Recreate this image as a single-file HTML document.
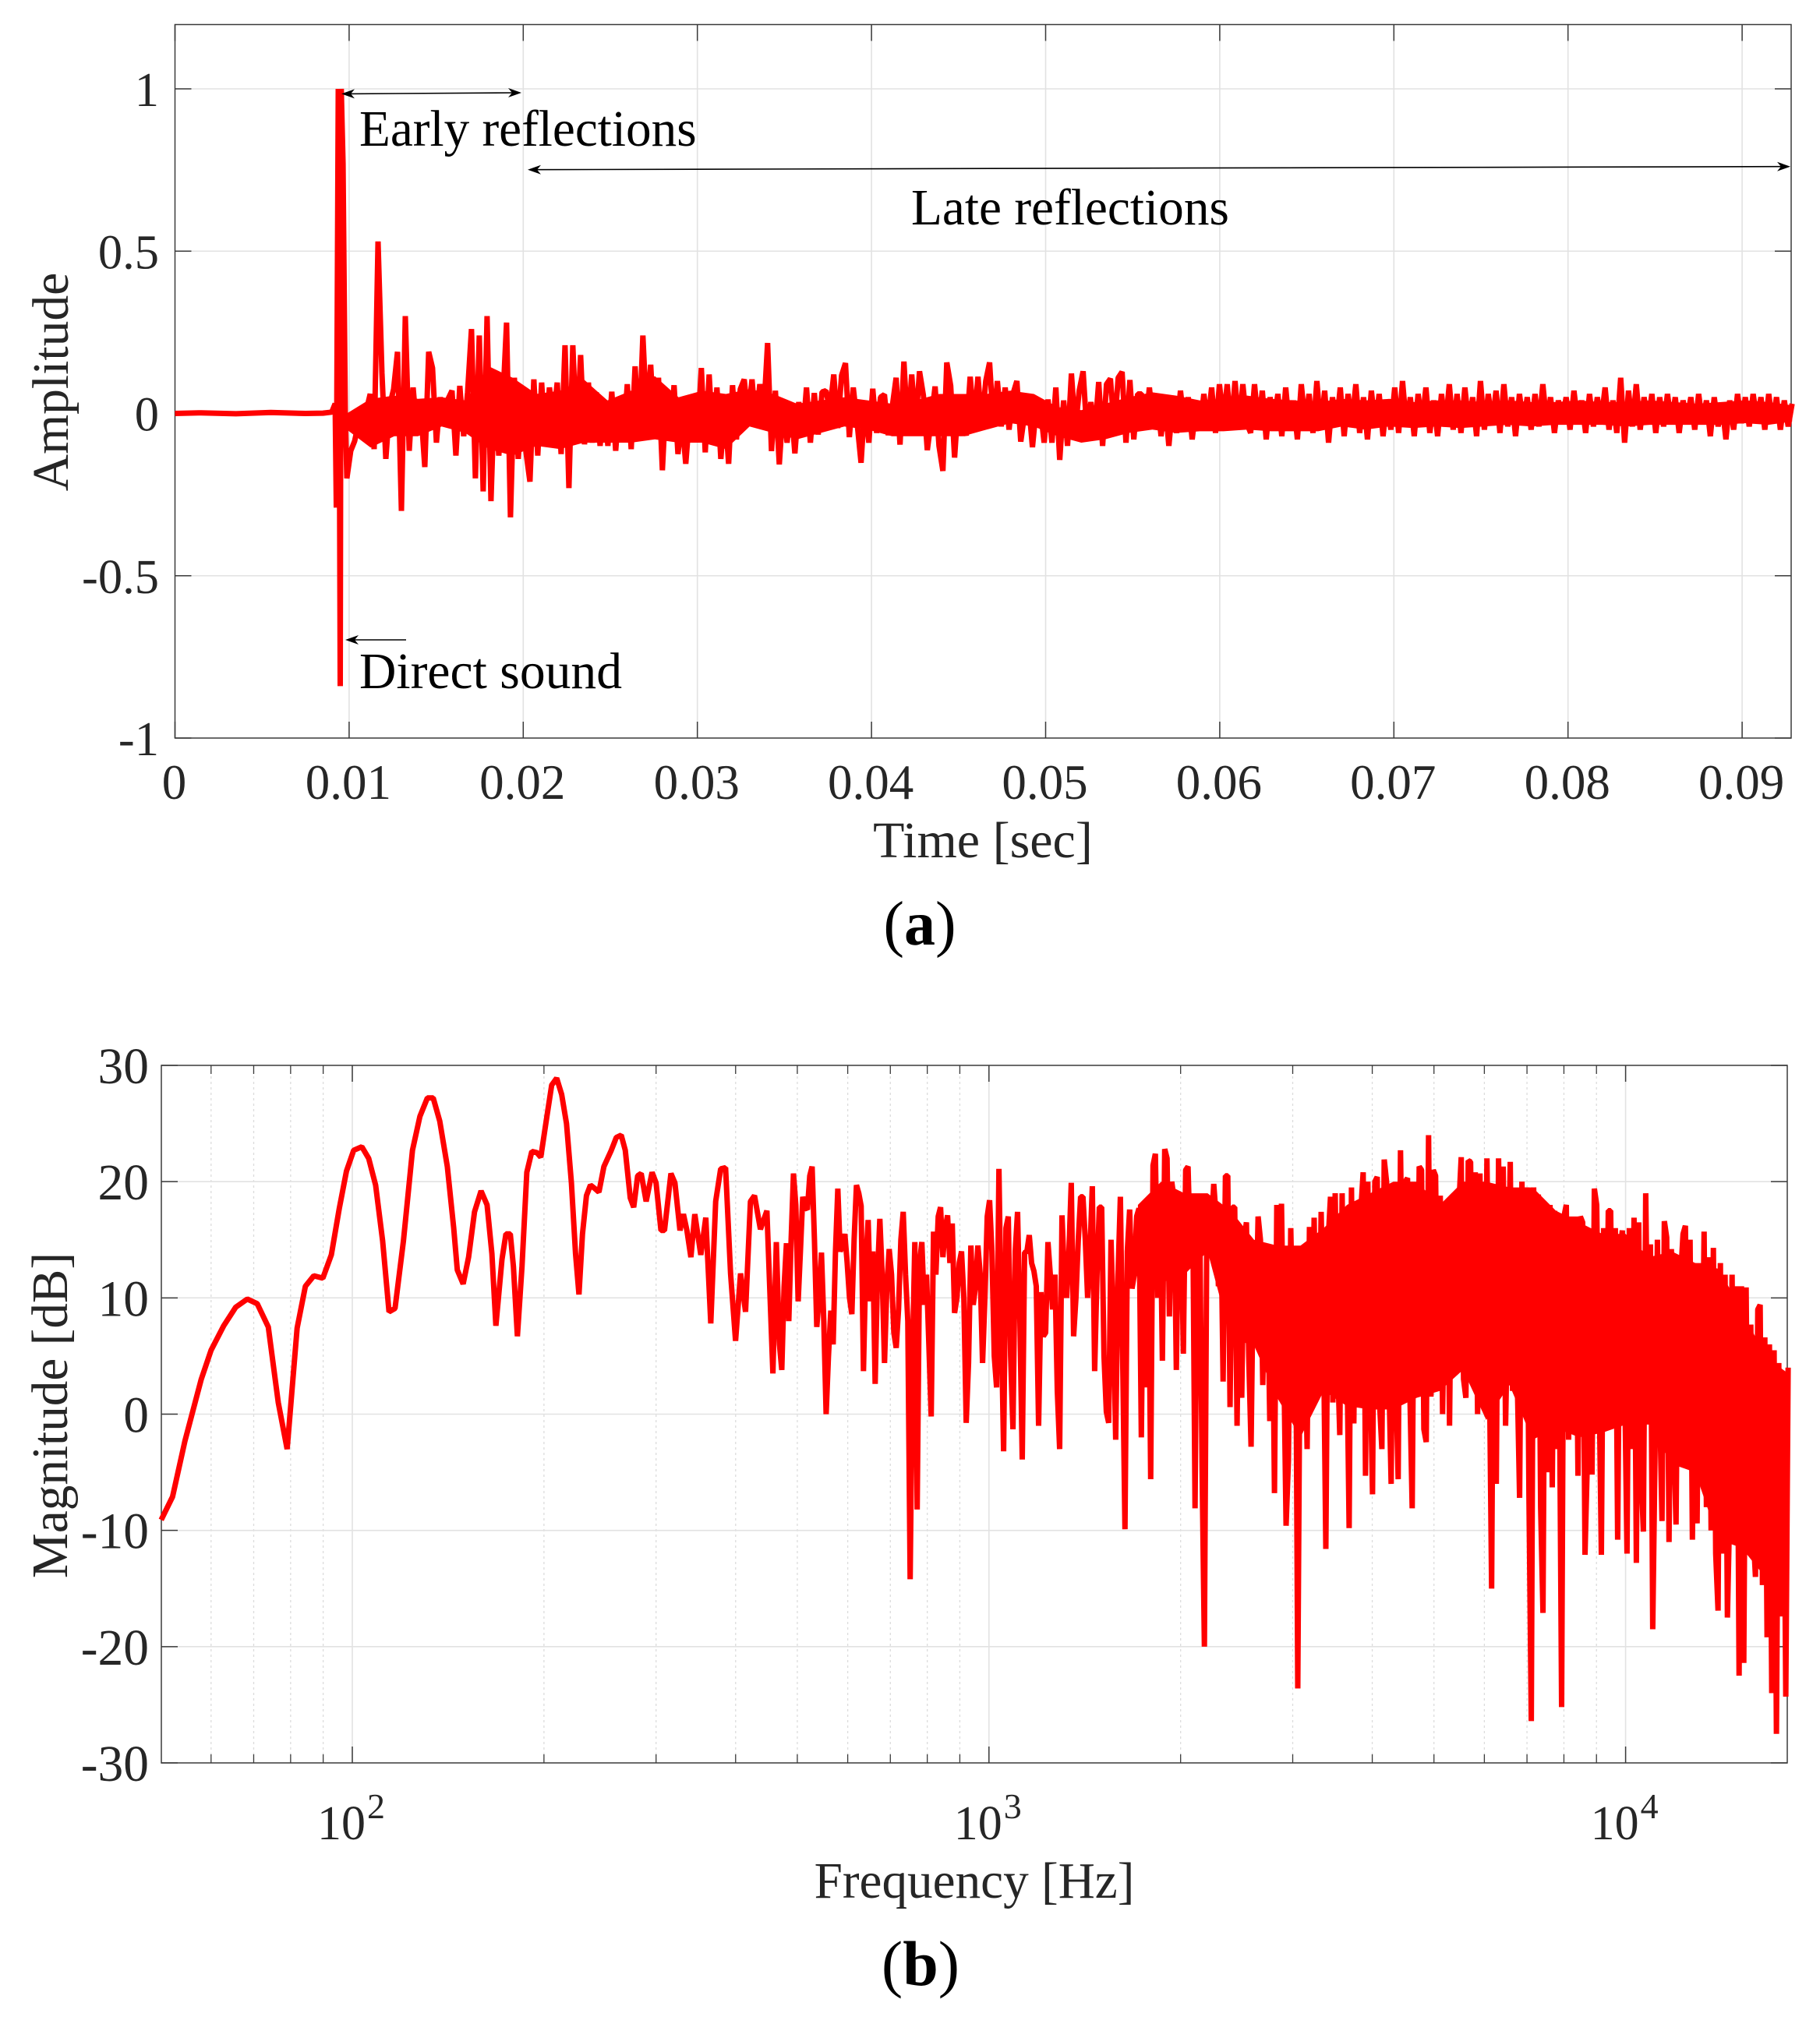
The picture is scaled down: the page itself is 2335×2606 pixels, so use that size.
<!DOCTYPE html>
<html lang="en">
<head>
<meta charset="utf-8">
<title>Room impulse response and frequency response</title>
<style>
html,body{margin:0;padding:0;background:#fff;}
body{width:2335px;height:2606px;overflow:hidden;}
svg{display:block;}
text{font-family:"Liberation Serif",serif;}
</style>
</head>
<body>
<svg id="figure" xmlns="http://www.w3.org/2000/svg" width="2335" height="2606" viewBox="0 0 2335 2606">
  <rect x="0" y="0" width="2335" height="2606" fill="#fff"/>
  <g id="panel-a"></g>
  <g id="panel-b"></g>
  <text x="461" y="187" font-size="65.2" fill="#000">Early reflections</text>
  <text x="1169" y="288" font-size="65.3" fill="#000">Late reflections</text>
  <text x="461" y="883" font-size="65.6" fill="#000">Direct sound</text>
  <text x="1180" y="1212" font-size="80" text-anchor="middle" fill="#000">(<tspan font-weight="bold">a</tspan>)</text>
  <text x="1181" y="2547" font-size="82" text-anchor="middle" fill="#000">(<tspan font-weight="bold">b</tspan>)</text>
</svg>
<script>
// ---- Panel (a): amplitude vs time ----
const ampTickTimes = [0, 0.01, 0.02, 0.03, 0.04, 0.05, 0.06, 0.07, 0.08, 0.09];
const ampTickTimeLabels = ['0', '0.01', '0.02', '0.03', '0.04', '0.05', '0.06', '0.07', '0.08', '0.09'];
const ampTickValues = [1, 0.5, 0, -0.5, -1];
const ampTickValueLabels = ['1', '0.5', '0', '-0.5', '-1'];
const ampLeadTimes = [0, 0.0015, 0.0035, 0.0055, 0.0075, 0.0085, 0.009, 0.0092, 0.009266, 0.00938, 0.00949, 0.00955, 0.00965, 0.00978];
const ampLeadValues = [0, 0.002, -0.001, 0.003, 0, 0.001, 0.004, 0.03, -0.29, 1, -0.84, 1, 0.77, 0];
const ampTailStart = 0.00987;
const ampTailEnd = 0.09287;
const ampTailValues = [
-.2,-.115,-.085,-.03,-.05,.01,.06,-.11,.53,.125,-.14,.025,.075,.19,-.3,.3,-.115,.08,-.06,.01,
-.165,.19,.14,-.09,.05,-.035,.045,.07,-.13,.085,-.07,.065,.26,-.2,.24,-.24,.3,-.27,.1,-.13,
.025,.28,-.32,.11,-.14,.045,-.12,-.21,.105,-.13,.095,-.1,.08,-.02,.095,-.125,.21,-.23,.21,-.08,
.18,-.095,.095,-.09,.065,-.1,.04,-.1,.067,-.115,.04,-.08,.09,-.11,.145,-.08,.24,-.02,.15,-.07,
.11,-.175,.065,-.08,.087,-.125,-.015,-.155,0,.055,-.075,.14,-.12,.12,-.09,.08,-.14,.015,-.155,.087,
-.08,.075,.105,-.015,.105,-.04,.09,0,.217,-.116,.07,-.157,.025,-.09,.03,-.123,.035,-.07,.08,-.09,
.063,-.065,.066,.07,.01,.12,-.045,.117,.155,-.073,.08,-.03,-.152,.037,-.09,.076,-.06,.05,.058,-.067,
.02,.11,-.096,.16,-.06,.12,-.04,.13,.055,-.113,-.02,.083,-.1,-.177,.157,.085,-.136,.045,-.03,-.068,
.113,-.03,.113,-.035,.1,.157,-.04,.1,-.04,.08,-.05,.06,.1,-.087,0,.033,-.104,.02,.018,-.09,
.043,-.09,.08,-.143,.04,-.1,.123,-.05,.07,.13,-.065,.035,-.06,.097,-.1,.09,.107,-.05,.11,.128,
-.09,.103,-.08,.06,
.06,-.05,.08,-.03,.05,-.07,.04,-.1,.03,-.06,.07,-.04,.05,-.08,.02,-.05,.06,-.03,.08,-.06,.09,-.02,.09,-.05,.1,-.04,.09,-.03,
-.06,.09,-.04,.07,-.08,.05,-.02,.06,-.07,.08,-.05,.04,-.08,.09,-.03,.06,-.06,.1,-.05,.07,-.09,.05,-.04,.08,-.07,.06,-.03,.09,-.06,.05,-.08,.07,-.04,.06,-.07,.04,
-.05,.08,-.06,.1,-.04,.05,-.07,.06,-.03,.08,-.06,.04,-.07,.06,-.04,.09,-.05,.06,-.06,.08,-.04,.05,-.07,.1,-.05,.06,-.03,.07,-.06,.09,-.04,.05,-.07,.06,-.03,.05,
-.05,.06,-.04,.09,-.03,.05,-.06,.04,-.02,.05,-.05,.07,-.03,.04,-.06,.06,-.04,.05,-.02,.08,-.05,.04,-.06,.11,-.09,.07,-.04,.09,-.05,.05,-.03,.06,-.06,.05,
-.04,.06,-.03,.05,-.06,.04,-.02,.05,-.05,.06,-.03,.04,-.07,.05,-.04,.03,-.08,.04,-.05,.06,-.03,.05,-.04,.06,-.02,.05,-.05,.06,-.03,.05,-.05,.04,-.04,.03
];
// Solid core of the dense oscillation, read at evenly spaced times along the tail.
const ampCoreUpper = [0,.045,.055,.045,.05,.04,.145,.11,.06,.07,.105,.04,.07,.115,.05,.07,.06,.075,.06,.03,.04,.05,.04,.03,.04,.06,.06,.06,.07,.06,.02,.01,.03,.05,.065,.055,.04,.045,.055,.045,.04,.035,.045,.04,.045,.035,.04,.04,.035,.04,.035,.035,.04,.035,.035,.04,.035,.03,.035,.04,.035,.025];
const ampCoreLower = [-.05,-.105,-.07,-.07,-.04,-.06,-.11,-.13,-.1,-.11,-.09,-.09,-.09,-.08,-.09,-.09,-.11,-.04,-.06,-.08,-.06,-.04,-.05,-.07,-.07,-.07,-.07,-.05,-.03,-.04,-.07,-.09,-.08,-.06,-.05,-.06,-.055,-.055,-.05,-.055,-.055,-.055,-.04,-.05,-.04,-.045,-.04,-.045,-.04,-.035,-.04,-.035,-.035,-.035,-.04,-.035,-.035,-.035,-.035,-.03,-.035,-.025];

// ---- Panel (b): magnitude vs frequency ----
const magTickDb = [30, 20, 10, 0, -10, -20, -30];
const magTickDbLabels = ['30', '20', '10', '0', '-10', '-20', '-30'];
const magDecadeHz = [100, 1000, 10000];
const magDecadeBase = ['10', '10', '10'];
const magDecadeExp = ['2', '3', '4'];
const magMinorHz = [60, 70, 80, 90, 200, 300, 400, 500, 600, 700, 800, 900, 2000, 3000, 4000, 5000, 6000, 7000, 8000, 9000];
const magLowHz = [50.1,52.2,54.6,57.9,60,62.8,65.6,68.4,70.9,73.8,76.5,79,81.9,84.4,87,89.9,92.7,95.4,97.9,100.5,103.5,106.1,108.8,111.6,114.2,116.7,120.3,124.3,127.7,131.2,134,137.2,141,144.3,146.2,149.3,152.3,155.6,159.3,162.8,165.7,168.1,171.8,174.3,177.1,179.1,181.7,184.7,188,191.4,194.9,197.7,202,205.7,209.4,213.2,217,220.9,224.2,227,229.9,233.2,236.6,240.5,244,248.4,255.2,259.8,264.5,268.4,273.3,276.7,280.7,284.3,289.4,295.7,300,305.4,309.3,316.6,321.2,327.1,331.2,335.4,340.3,345.1,352.7,359.1,365.6,372.2,379,385.8,392.8,399.9,407.2,414.6,422,428.3,437.6,447.9,457.7,463.4];
const magLowDb = [-9.1,-7.1,-2.3,3,5.5,7.6,9.2,9.9,9.5,7.5,1,-3,7.4,11,11.9,11.7,13.7,17.7,20.9,22.7,23,22,19.7,14.9,8.8,9.1,14.9,22.7,25.6,27.2,27.2,25.2,21.3,16,12.4,11.2,13.5,17.4,19.2,18,13.8,7.6,13.3,15.5,15.5,12.7,6.7,12.7,20.8,22.6,22.5,22.1,25.5,28.3,28.9,27.5,25,19.9,13.8,10.3,15.5,18.8,19.7,19.4,19.1,21.3,22.7,23.8,24,22.7,18.6,17.8,20.5,20.7,18.3,20.8,19.9,15.8,15.8,20.7,19.9,15.8,17.2,15.8,13.5,17.2,13.7,16.9,7.8,18.3,21.1,21.2,12.1,6.3,12.1,8.8,18.3,18.8,15.9,17.5,3.5,14.8];
const magHighStartHz = 468.7;
const magHighEndHz = 18000;
const magHighDb = [
6,3.8,11,14.7,8,15,20.7,18,9.7,14,18.7,17.8,17.6,20.5,21.3,15,7.5,10,13.9,8,0,5,8.9,6,14,19.4,14,14.5,15.5,13,10,8.6,15,19.7,19,17.9,3.7,13,16.7,9.7,
14,2.6,12,16.8,12,4.4,11,14.2,12,7,5.7,9,15,17.4,12,8,-14.2,5,14.8,-8.2,13,14.8,9.4,12,6,-0.2,15.7,12,17,17.8,13.5,16,17.1,13,16.4,8.7,10,13,14,10,
-0.75,4.4,14.5,9.4,11,14.5,12,4.4,10,17,18.4,14,5,2.3,21.1,8,-3.2,16,17,5,-1.3,14,17.4,8,-3.9,13.9,14,15.4,13,12.3,11,-1,10.5,6.7,7,14.8,12,9,12,2,
-3,17.1,12,10,14,19.9,6.7,10,15,18.7,18.7,15,10,14,19.6,3.7,12,17.8,17.8,5,0.2,-0.75,15,8,-2.2,12,18.7,5,-9.9,14,17.6,10.8,12,17,
17.7,-2,17.5,2.3,17,-5.6,21.4,22.4,10,19.4,4.6,22.8,22,8.4,20,18.5,3.8,18.2,18,5.2,21,21.3,14,18.3,-8.1,17.5,17.1,-4.5,-20,15,18.5,16,19.8,17,11,18,2.8,20.5,20.5,0.6,
17.8,17.8,-1,15,1.4,15,16.5,5,-2.8,13.7,7,17,15,2.5,14,12,-0.6,14,-6.8,18,12,18.1,5,-9.6,-4,16,6,13.4,-23.6,8,14,8,-3,16.1,1.8,16.9,3,3,17.4,7,
-11.6,15,18.7,1,19,5,-1.8,19,2,6,-9.8,19.5,-0.8,17,3,17.5,20.8,-5.3,20,4,-6.9,20,20.4,1,-3,21.9,20,3,-6,19.4,3,-5.6,22.7,8,20,20.3,2,-8.1,19,4,
21.3,21,-1.3,-2.4,24,1.5,21,20.5,4,18.8,0,14,18,-1,18.8,18.8,5,18,22.1,3,1.4,21.8,21.7,4.8,
20.8,0,20.7,5,2,22,5,-15,19,-6,22,8,21.3,-1,10,21.7,2,17,3,-7.2,20,4,19.5,-7,-26.4,19.5,1,18.9,-8,-17.1,18,-5,18,-6.3,17.5,-3,5,-25.2,17,18,
-2.2,17,4,17,-5.3,17,16.5,-12.1,-4,15,-5.2,19.4,18,3,-12.1,16,1,17.5,17.5,1,16,-10.8,14,15.8,3,-12,16,-3,16.9,-12.8,16.5,-5,-10.1,19,3,14.6,-18.5,-3,15,1,
-9.2,16.6,15.2,-11,14.2,-2,-9.5,13,12,15.5,16.2,1,15,-10.8,13,-9.4,13,-2,15.7,-8,13.5,-10,14.3,-12,-16.9,13,-12,12,-17.5,-8,12,-10,11,-22.5,11,-21.4,10.9,-12,7.7,-10,
-14,9,9.4,-14.7,6.6,-19.2,6,-24,5.5,-27.5,4.4,-17.4,2.9,-24.3,4
];
// Solid core of the dense high-frequency oscillation, read at evenly spaced log-frequency steps.
const magCoreStartHz = 1714;
const magCoreUpperDb = [18,20,19,19,17.5,15,14.5,14.5,16,18,19,20,20,18,20,20,19.5,19.5,17.5,16.5,15.5,15.5,13.5,14,13,12.5,9,5,3.5];
const magCoreLowerDb = [11,11.3,12,14,6.5,5.9,1.4,-2,2,0.7,0.4,0.4,1.4,2,3.8,-0.5,2.5,-2.2,-1.2,-2,-1.6,-0.9,-0.9,-4.3,-5,-10.8,-11.5,-14,-13.5];

// ---- Axis functions ----
const axA = {left: 224.5, right: 2298, top: 31.5, bottom: 947};
const axB = {left: 207, right: 2293, top: 1367, bottom: 2262};
function xA(t) { return 224.5 + t * 22340; }
function yA(v) { return 530.5 - 416.5 * v; }
function xB(f) { return 452 + 816.8 * (Math.log10(f) - 2); }
function yB(db) { return 1814.5 - 14.917 * db; }

const NS = 'http://www.w3.org/2000/svg';
const panelA = document.getElementById('panel-a');
const panelB = document.getElementById('panel-b');
const GRID = '#e2e2e2';
const AXIS = '#3a3a3a';
const TICKTEXT = '#262626';

function line(parent, x1, y1, x2, y2, color, width, dash) {
  const el = document.createElementNS(NS, 'line');
  el.setAttribute('x1', x1);
  el.setAttribute('y1', y1);
  el.setAttribute('x2', x2);
  el.setAttribute('y2', y2);
  el.setAttribute('stroke', color);
  el.setAttribute('stroke-width', width);
  if (dash) el.setAttribute('stroke-dasharray', dash);
  parent.appendChild(el);
  return el;
}
function label(parent, str, x, y, size, anchor) {
  const el = document.createElementNS(NS, 'text');
  el.setAttribute('x', x);
  el.setAttribute('y', y);
  el.setAttribute('font-size', size);
  el.setAttribute('text-anchor', anchor);
  el.setAttribute('fill', TICKTEXT);
  el.textContent = str;
  parent.appendChild(el);
  return el;
}
function frame(parent, ax) {
  const el = document.createElementNS(NS, 'rect');
  el.setAttribute('x', ax.left);
  el.setAttribute('y', ax.top);
  el.setAttribute('width', ax.right - ax.left);
  el.setAttribute('height', ax.bottom - ax.top);
  el.setAttribute('fill', 'none');
  el.setAttribute('stroke', AXIS);
  el.setAttribute('stroke-width', 1.5);
  
  
  parent.appendChild(el);
}
function series(parent, pts, width) {
  const el = document.createElementNS(NS, 'path');
  let d = '';
  for (let i = 0; i < pts.length; i++) {
    d += (i ? 'L' : 'M') + pts[i][0].toFixed(1) + ' ' + pts[i][1].toFixed(1);
  }
  el.setAttribute('d', d);
  el.setAttribute('fill', 'none');
  el.setAttribute('stroke', '#ff0000');
  el.setAttribute('stroke-width', width);
  el.setAttribute('stroke-linejoin', 'bevel');
  el.setAttribute('stroke-linecap', 'butt');
  parent.appendChild(el);
  return el;
}
function core(parent, upperPts, lowerPts) {
  const el = document.createElementNS(NS, 'polygon');
  const all = upperPts.concat(lowerPts.slice().reverse());
  el.setAttribute('points', all.map(function (p) { return p[0].toFixed(1) + ',' + p[1].toFixed(1); }).join(' '));
  el.setAttribute('fill', '#ff0000');
  parent.appendChild(el);
  return el;
}
function arrowHead(parent, tipX, tipY, dir) {
  const el = document.createElementNS(NS, 'polygon');
  const p = [[tipX, tipY], [tipX - dir * 17, tipY - 6], [tipX - dir * 12, tipY], [tipX - dir * 17, tipY + 6]];
  el.setAttribute('points', p.map(function (q) { return q.join(','); }).join(' '));
  el.setAttribute('fill', '#000');
  parent.appendChild(el);
  return el;
}

// ---- Draw panel (a) ----
ampTickTimes.forEach(function (t, i) {
  const g = document.createElementNS(NS, 'g');
  
  
  const x = xA(t);
  if (i > 0) line(g, x, axA.top, x, axA.bottom, GRID, 1.6);
  line(g, x, axA.bottom, x, axA.bottom - 21, AXIS, 1.5);
  line(g, x, axA.top, x, axA.top + 21, AXIS, 1.5);
  label(g, ampTickTimeLabels[i], x - 1, 1025, 63, 'middle');
  panelA.appendChild(g);
});
ampTickValues.forEach(function (v, i) {
  const g = document.createElementNS(NS, 'g');
  
  
  const y = yA(v);
  if (v !== -1) line(g, axA.left, y, axA.right, y, GRID, 1.6);
  line(g, axA.left, y, axA.left + 21, y, AXIS, 1.5);
  line(g, axA.right, y, axA.right - 21, y, AXIS, 1.5);
  label(g, ampTickValueLabels[i], 204, y + 22, 62.5, 'end');
  panelA.appendChild(g);
});
frame(panelA, axA);

const ampCoreUpperPts = [];
const ampCoreLowerPts = [];
ampCoreUpper.forEach(function (v, i) {
  const t = ampTailStart + i * (ampTailEnd - ampTailStart) / (ampCoreUpper.length - 1);
  ampCoreUpperPts.push([xA(t), yA(v)]);
  ampCoreLowerPts.push([xA(t), yA(ampCoreLower[i])]);
});
const ampCoreBand = core(panelA, ampCoreUpperPts, ampCoreLowerPts);



const ampPoints = [];
ampLeadTimes.forEach(function (t, i) {
  ampPoints.push([xA(t), yA(ampLeadValues[i])]);
});
ampTailValues.forEach(function (v, i) {
  const t = ampTailStart + i * (ampTailEnd - ampTailStart) / (ampTailValues.length - 1);
  ampPoints.push([xA(t), yA(v)]);
});
const ampLine = series(panelA, ampPoints, 7);



const arrowGroup = document.createElementNS(NS, 'g');


panelA.appendChild(arrowGroup);
line(arrowGroup, 445, 120.4, 664, 119, '#000', 1.6);
arrowHead(arrowGroup, 438, 120.4, -1);
arrowHead(arrowGroup, 669, 119, 1);
line(arrowGroup, 682, 217.7, 2290, 213.7, '#000', 1.6);
arrowHead(arrowGroup, 677, 217.7, -1);
arrowHead(arrowGroup, 2297, 213.7, 1);
line(arrowGroup, 450, 821, 521, 821, '#000', 1.6);
arrowHead(arrowGroup, 443, 821, -1);

const timeTitle = label(panelA, 'Time [sec]', 1261, 1100, 66, 'middle');


const ampTitle = label(panelA, 'Amplitude', 0, 0, 65.6, 'middle');
ampTitle.setAttribute('transform', 'translate(87,490) rotate(-90)');



// ---- Draw panel (b) ----
magMinorHz.forEach(function (f) {
  const g = document.createElementNS(NS, 'g');
  
  
  const x = xB(f);
  line(g, x, axB.top, x, axB.bottom, '#dcdcdc', 1.3, '3 4');
  line(g, x, axB.bottom, x, axB.bottom - 11, AXIS, 1.3);
  line(g, x, axB.top, x, axB.top + 11, AXIS, 1.3);
  panelB.appendChild(g);
});
magDecadeHz.forEach(function (f, i) {
  const g = document.createElementNS(NS, 'g');
  
  
  const x = xB(f);
  line(g, x, axB.top, x, axB.bottom, GRID, 1.6);
  line(g, x, axB.bottom, x, axB.bottom - 21, AXIS, 1.5);
  line(g, x, axB.top, x, axB.top + 21, AXIS, 1.5);
  label(g, magDecadeBase[i], x + 17, 2360, 62, 'end');
  label(g, magDecadeExp[i], x + 19, 2333, 46, 'start');
  panelB.appendChild(g);
});
magTickDb.forEach(function (db, i) {
  const g = document.createElementNS(NS, 'g');
  
  
  const y = yB(db);
  if (Math.abs(db) !== 30) line(g, axB.left, y, axB.right, y, GRID, 1.6);
  line(g, axB.left, y, axB.left + 21, y, AXIS, 1.5);
  line(g, axB.right, y, axB.right - 21, y, AXIS, 1.5);
  label(g, magTickDbLabels[i], 191, y + 23, 65.5, 'end');
  panelB.appendChild(g);
});
frame(panelB, axB);

const magLogStart = Math.log10(magHighStartHz);
const magLogEnd = Math.log10(magHighEndHz);
const magCoreLogStart = Math.log10(magCoreStartHz);
const magCoreUpperPts = [];
const magCoreLowerPts = [];
magCoreUpperDb.forEach(function (db, i) {
  const f = Math.pow(10, magCoreLogStart + i * (magLogEnd - magCoreLogStart) / (magCoreUpperDb.length - 1));
  magCoreUpperPts.push([xB(f), yB(db)]);
  magCoreLowerPts.push([xB(f), yB(magCoreLowerDb[i])]);
});
const magCoreBand = core(panelB, magCoreUpperPts, magCoreLowerPts);



const magPoints = [];
magLowHz.forEach(function (f, i) {
  magPoints.push([xB(f), yB(magLowDb[i])]);
});
magHighDb.forEach(function (db, i) {
  const f = Math.pow(10, magLogStart + i * (magLogEnd - magLogStart) / (magHighDb.length - 1));
  magPoints.push([xB(f), yB(db)]);
});
const magLine = series(panelB, magPoints, 7);



const freqTitle = label(panelB, 'Frequency [Hz]', 1250, 2435, 65.2, 'middle');


const magTitle = label(panelB, 'Magnitude [dB]', 0, 0, 65.2, 'middle');
magTitle.setAttribute('transform', 'translate(86,1816) rotate(-90)');


</script>
</body>
</html>
